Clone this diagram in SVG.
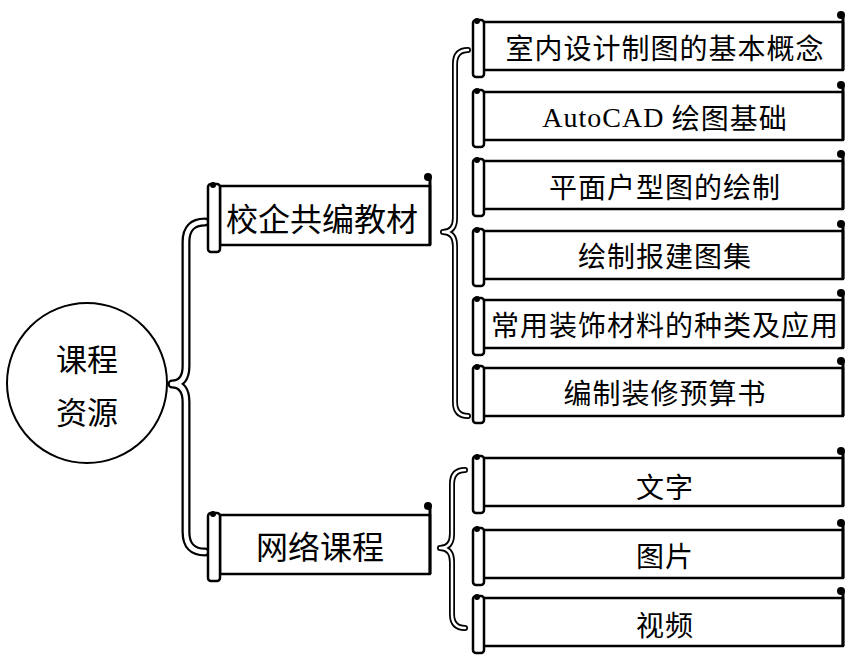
<svg xmlns="http://www.w3.org/2000/svg" width="853" height="656" viewBox="0 0 853 656">
<style>
.ln{fill:#fff;stroke:#000;stroke-width:2.5;stroke-linejoin:round}
.knob{fill:#000}
.t{font-family:"Noto Sans CJK SC","Noto Sans",sans-serif;fill:#000;text-anchor:middle;dominant-baseline:central}
.r{font-size:28px;letter-spacing:1px}
.m{font-size:32px}
.c{font-size:31px}
.lat{font-family:"Liberation Serif","Noto Sans CJK SC",serif}
.bo{fill:none;stroke:#000;stroke-linecap:round;stroke-linejoin:round}
.bi{fill:none;stroke:#fff;stroke-linecap:round;stroke-linejoin:round}
</style>
<defs>
<g id="rs">
<rect class="ln" x="10" y="0" width="360" height="48"/>
<path d="M370,48 L370,-6" fill="none" stroke="#000" stroke-width="3"/>
<circle class="knob" cx="368" cy="-7" r="4"/>
<rect class="ln" x="0" y="-2" width="11" height="57" rx="3"/>
<circle class="knob" cx="4" cy="-1" r="3"/>
</g>
<g id="ms">
<rect class="ln" x="12" y="0" width="210" height="59"/>
<path d="M222,59 L222,-8" fill="none" stroke="#000" stroke-width="3"/>
<circle class="knob" cx="220" cy="-9" r="4"/>
<rect class="ln" x="0" y="-2" width="12" height="68" rx="3"/>
<circle class="knob" cx="5" cy="-1" r="3"/>
</g>
</defs>
<rect width="853" height="656" fill="#fff"/>
<g id="connectors">
<path class="bo" stroke-width="9" d="M205,222 Q186,222 186,242 L186,366 Q186,384 172,384 Q186,384 186,402 L186,532 Q186,552 205,552"/>
<path class="bi" stroke-width="4.5" d="M205,222 Q186,222 186,242 L186,366 Q186,384 172,384 Q186,384 186,402 L186,532 Q186,552 205,552"/>
<path class="bo" stroke-width="6" d="M468,50 Q455,50 455,64 L455,218 Q455,232 443,232 Q455,232 455,246 L455,402 Q455,416 468,416"/>
<path class="bi" stroke-width="2.5" d="M468,50 Q455,50 455,64 L455,218 Q455,232 443,232 Q455,232 455,246 L455,402 Q455,416 468,416"/>
<path class="bo" stroke-width="6" d="M465,470 Q452,470 452,484 L452,534 Q452,548 440,548 Q452,548 452,562 L452,614 Q452,628 465,628"/>
<path class="bi" stroke-width="2.5" d="M465,470 Q452,470 452,484 L452,534 Q452,548 440,548 Q452,548 452,562 L452,614 Q452,628 465,628"/>
</g>
<g id="root">
<circle cx="87" cy="383" r="80" fill="#fff" stroke="#000" stroke-width="2"/>
<text class="t c" x="87" y="357">课程</text>
<text class="t c" x="87" y="410">资源</text>
</g>
<g id="n-jiaocai">
<use href="#ms" x="208" y="186"/>
<text class="t m" x="322" y="217">校企共编教材</text>
</g>
<g id="n-wangluo">
<use href="#ms" x="208" y="515"/>
<text class="t m" x="320" y="545">网络课程</text>
</g>
<g id="r1"><use href="#rs" x="473" y="22"/><text class="t r" x="665" y="47">室内设计制图的基本概念</text></g>
<g id="r2"><use href="#rs" x="473" y="92"/><text class="t r" x="665" y="117"><tspan class="lat">AutoCAD</tspan> 绘图基础</text></g>
<g id="r3"><use href="#rs" x="473" y="161"/><text class="t r" x="665" y="186">平面户型图的绘制</text></g>
<g id="r4"><use href="#rs" x="473" y="231"/><text class="t r" x="665" y="255">绘制报建图集</text></g>
<g id="r5"><use href="#rs" x="473" y="300"/><text class="t r" x="665" y="324">常用装饰材料的种类及应用</text></g>
<g id="r6"><use href="#rs" x="473" y="368"/><text class="t r" x="665" y="392">编制装修预算书</text></g>
<g id="w1"><use href="#rs" x="473" y="458"/><text class="t r" x="665" y="486">文字</text></g>
<g id="w2"><use href="#rs" x="473" y="530"/><text class="t r" x="665" y="555">图片</text></g>
<g id="w3"><use href="#rs" x="473" y="598"/><text class="t r" x="665" y="624">视频</text></g>
</svg>
